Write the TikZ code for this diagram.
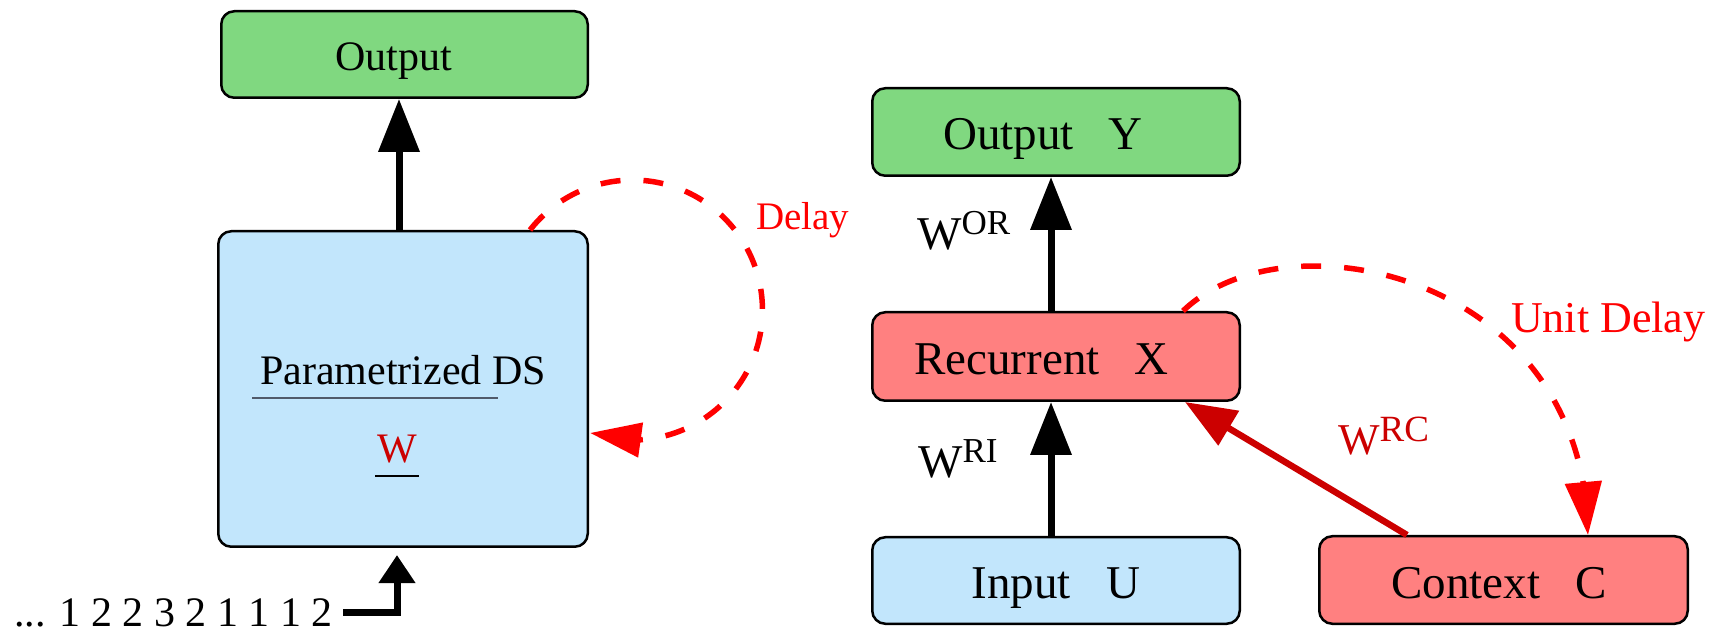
\documentclass[tikz,border=0pt]{standalone}
\usepackage{fontspec}
\setmainfont{Liberation Serif}
\usetikzlibrary{arrows.meta,bending,calc}

\definecolor{boxgreen}{RGB}{128,216,128}
\definecolor{boxblue}{RGB}{194,230,252}
\definecolor{boxred}{RGB}{255,128,128}
\definecolor{wred}{RGB}{204,0,0}
\definecolor{loopred}{RGB}{255,0,0}
\definecolor{rulegray}{RGB}{80,90,106}

\newcommand{\fsz}[1]{\fontsize{#1}{#1}\selectfont}

\begin{document}
\begin{tikzpicture}[x=1pt,y=1pt,
  box/.style={draw=black, line width=2.5pt, rounded corners=13pt,
              inner sep=0pt, text height=36pt, text depth=0pt, font=\fsz{47}},
  leftbox/.style={box, text height=31.5pt, font=\fsz{42}},
  plain/.style={inner sep=0pt, anchor=base west},
  blkarrow/.style={line width=7pt, -{Triangle[width=40pt,length=53pt]}},
  ctxarrow/.style={line width=6.5pt, draw=wred, -{Triangle[width=39pt,length=51pt]}},
  loop/.style={line width=5.5pt, draw=loopred, dash pattern=on 20pt off 23pt}
]
\useasboundingbox (0,0) rectangle (1716,632);

% ---------- left: parametrized dynamical system ----------
\node[leftbox, fill=boxgreen, minimum width=366.5pt, minimum height=86.5pt]
  (out1) at (404.5,577.5) {Output\hspace*{22pt}};
\node[leftbox, fill=boxblue, minimum width=369.5pt, minimum height=315.5pt]
  (ds) at (403,243) {};

\node[inner sep=0pt, anchor=base, font=\fsz{42}] (dstitle)
  at ([yshift=4pt]ds.center) {Parametrized DS};
\node[inner sep=0pt, anchor=base, font=\fsz{42}, text=wred] (dsw)
  at ([xshift=-6pt,yshift=-74pt]ds.center) {W};
\draw[rulegray, line width=1.5pt]
  ([xshift=-151pt,yshift=-9pt]ds.center) -- ([xshift=95pt,yshift=-9pt]ds.center);
\draw[black, line width=1.5pt]
  ([xshift=-28pt,yshift=-87pt]ds.center) -- ([xshift=16pt,yshift=-87pt]ds.center);

\node[plain, font=\fsz{42}] (seq) at (14,5.5) {... 1 2 2 3 2 1 1 1 2};
\coordinate (inStart) at (343,20);

\draw[blkarrow] ([xshift=-4pt]ds.north) -- ([xshift=-4pt]ds.north |- out1.south);
\draw[line width=7pt, -{Triangle[width=35pt,length=28pt]}, shorten >=7pt]
  (inStart) -| ([xshift=-6pt]ds.south);

\draw[loop, -{Triangle[width=34pt,length=51pt,flex]}]
  ([xshift=127pt]ds.north) arc[start angle=142, end angle=-109, radius=130];
\node[plain, font=\fsz{39}, text=loopred] (delay) at (756,402) {Delay};

% ---------- right: recurrent network ----------
\node[box, fill=boxgreen, minimum width=367.5pt, minimum height=87.5pt]
  (outY) at (1056,500) {Output\hspace{.75em}Y\hspace*{26pt}};
\node[box, fill=boxred, minimum width=367.5pt, minimum height=88.5pt]
  (rec) at (1056,275.5) {Recurrent\hspace{.75em}X\hspace*{29pt}};
\node[box, fill=boxblue, minimum width=367.5pt, minimum height=86.5pt]
  (inp) at (1056,51.5) {Input\hspace{.75em}U};
\node[box, fill=boxred, minimum width=368.5pt, minimum height=87.5pt]
  (ctx) at (1503.5,52) {Context\hspace{.75em}C\hspace*{9pt}};

\draw[blkarrow] ([xshift=-5pt]rec.north) -- ([xshift=-5pt]outY.south);
\draw[blkarrow] ([xshift=-5pt]inp.north) -- ([xshift=-5pt]rec.south);
\draw[ctxarrow] ([xshift=89pt]ctx.north west) -- ([xshift=-56pt]rec.south east);

\draw[loop, -{Triangle[width=36pt,length=53pt,flex]}]
  ([xshift=-58pt]rec.north east) .. controls (1285,420) and (1585,360)
  .. ([xshift=-101pt]ctx.north east);

\node[plain, font=\fsz{47}] (wor) at (917,382) {W\raisebox{15pt}{\fsz{35}OR}};
\node[plain, font=\fsz{47}] (wri) at (918,154) {W\raisebox{15pt}{\fsz{35}RI}};
\node[plain, font=\fsz{44}, text=wred] (wrc) at (1338,177) {W\raisebox{13pt}{\fsz{37}RC}};
\node[plain, font=\fsz{44}, text=loopred] (udelay) at (1511,299) {Unit Delay};
\end{tikzpicture}
\end{document}
